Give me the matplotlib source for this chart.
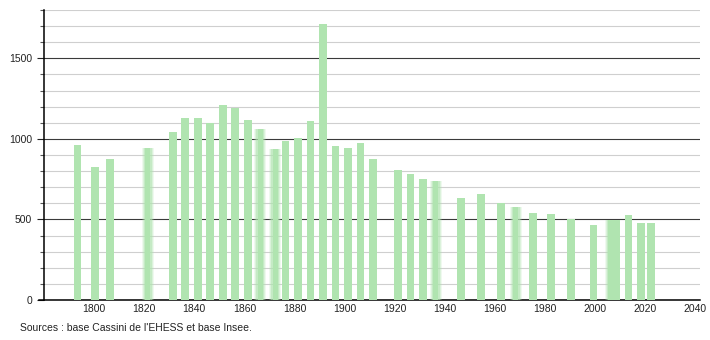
import matplotlib
matplotlib.use("Agg")
import matplotlib.pyplot as plt
from matplotlib.ticker import MultipleLocator

plt.rcParams['font.family'] = ['Liberation Sans', 'DejaVu Sans']

years = [1793, 1800, 1806, 1821, 1831, 1836, 1841, 1846, 1851, 1856,
         1861, 1866, 1872, 1876, 1881, 1886, 1891, 1896, 1901, 1906,
         1911, 1921, 1926, 1931, 1936, 1946, 1954, 1962, 1968, 1975,
         1982, 1990, 1999, 2006, 2008, 2013, 2018, 2022]
population = [965, 825, 878, 941, 1042, 1132, 1128, 1099, 1209, 1192,
              1115, 1059, 935, 984, 1003, 1109, 1715, 953, 941, 976,
              878, 810, 785, 754, 741, 635, 660, 604, 579, 542,
              536, 504, 467, 496, 496, 529, 480, 480]
# years drawn with blurred edges in the original
fuzzy_years = [1821, 1866, 1872, 1936, 1968, 2006]

bar_color = '#b0e4b0'

fig = plt.figure(figsize=(7.1, 3.4), dpi=100)
ax = fig.add_axes([0.062, 0.1176, 0.924, 0.853])

for y, p in zip(years, population):
    x = y + 0.4
    if y in fuzzy_years:
        for w, a in [(4.8, 0.2), (4.0, 0.3), (3.2, 0.5)]:
            ax.bar(x, p, width=w, color=bar_color, alpha=a, linewidth=0, zorder=3)
        ax.bar(x, p, width=2.0, color=bar_color, linewidth=0, zorder=3)
    else:
        ax.bar(x, p, width=3.1, color=bar_color, linewidth=0, zorder=3)

ax.set_xlim(1780, 2042)
ax.set_ylim(0, 1800)

ax.yaxis.set_major_locator(MultipleLocator(500))
ax.yaxis.set_minor_locator(MultipleLocator(100))
ax.set_xticks(range(1800, 2041, 20))

ax.grid(axis='y', which='minor', color='#cfcfcf', linewidth=0.8, zorder=1)
ax.grid(axis='y', which='major', color='#3a3a3a', linewidth=0.8, zorder=2)
ax.grid(axis='x', visible=False)

ax.tick_params(axis='x', length=0, labelsize=7.5, pad=3, colors='#222222')
ax.tick_params(axis='y', which='major', length=5, width=0.8, labelsize=7.5, colors='#222222')
ax.tick_params(axis='y', which='minor', length=3, width=0.8, color='#555555')

for side in ['top', 'right']:
    ax.spines[side].set_visible(False)
ax.spines['left'].set_linewidth(1.1)
ax.spines['bottom'].set_linewidth(1.1)
ax.spines['bottom'].set_bounds(1778, 2042)

fig.text(20 / 710, 1 - 328 / 340, "Sources : base Cassini de l'EHESS et base Insee.",
         fontsize=7.5, color='#222222', va='center', ha='left')

fig.savefig('out.png', dpi=100)
